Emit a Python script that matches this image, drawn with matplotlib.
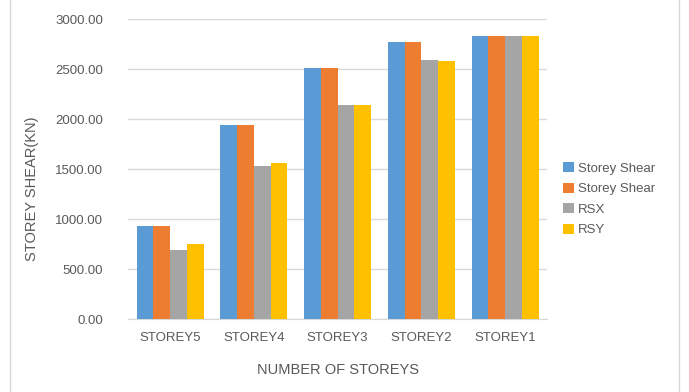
import matplotlib.pyplot as plt
import numpy as np
from matplotlib.patches import Rectangle

# data
storeys = ["STOREY5", "STOREY4", "STOREY3", "STOREY2", "STOREY1"]
shear_a = [929, 1944, 2515, 2769, 2836]
shear_b = [929, 1944, 2515, 2769, 2836]
rsx = [695, 1530, 2144, 2592, 2836]
rsy = [748, 1560, 2144, 2585, 2836]

series = [
    ("Storey Shear", shear_a, "#5B9BD5"),
    ("Storey Shear", shear_b, "#ED7D31"),
    ("RSX", rsx, "#A5A5A5"),
    ("RSY", rsy, "#FFC000"),
]

plt.rcParams["font.family"] = ["Liberation Sans", "DejaVu Sans"]
txt = "#595959"

fig = plt.figure(figsize=(6.89, 3.92), dpi=100)
fig.patches.append(Rectangle((0.015, -0.01), 0.97, 1.02, transform=fig.transFigure,
                             fill=False, edgecolor="#D9D9D9", linewidth=1))
ax = fig.add_axes([0.186, 0.186, 0.608, 0.765])

x = np.arange(len(storeys))
w = 0.2
for i, (name, vals, col) in enumerate(series):
    ax.bar(x + (i - 1.5) * w, vals, w, color=col, label=name, zorder=3)

ax.set_xlim(-0.5, 4.5)
ax.set_ylim(0, 3000)
ax.set_yticks(np.arange(0, 3001, 500))
ax.set_yticklabels([f"{v:.2f}" for v in np.arange(0, 3001, 500)])
ax.set_xticks(x)
ax.set_xticklabels(storeys)
ax.grid(axis="y", color="#D9D9D9", linewidth=1, zorder=0)
for s in ["top", "right", "left"]:
    ax.spines[s].set_visible(False)
ax.spines["bottom"].set_color("#D9D9D9")
ax.tick_params(axis="both", length=0, colors=txt, labelsize=9.5)
ax.tick_params(axis="y", pad=18)
ax.tick_params(axis="x", pad=9)

ax.set_xlabel("NUMBER OF STOREYS", color=txt, fontsize=10.5, labelpad=14)
ax.set_ylabel("STOREY SHEAR(KN)", color=txt, fontsize=10.5)
ax.yaxis.set_label_coords(-0.212, 0.433)

leg = ax.legend(loc="center left", bbox_to_anchor=(1.01, 0.4), frameon=False,
                fontsize=9.5, handlelength=0.8, handleheight=0.8,
                handletextpad=0.3, labelspacing=0.6)
for t in leg.get_texts():
    t.set_color(txt)

fig.savefig("out.png", dpi=100)
